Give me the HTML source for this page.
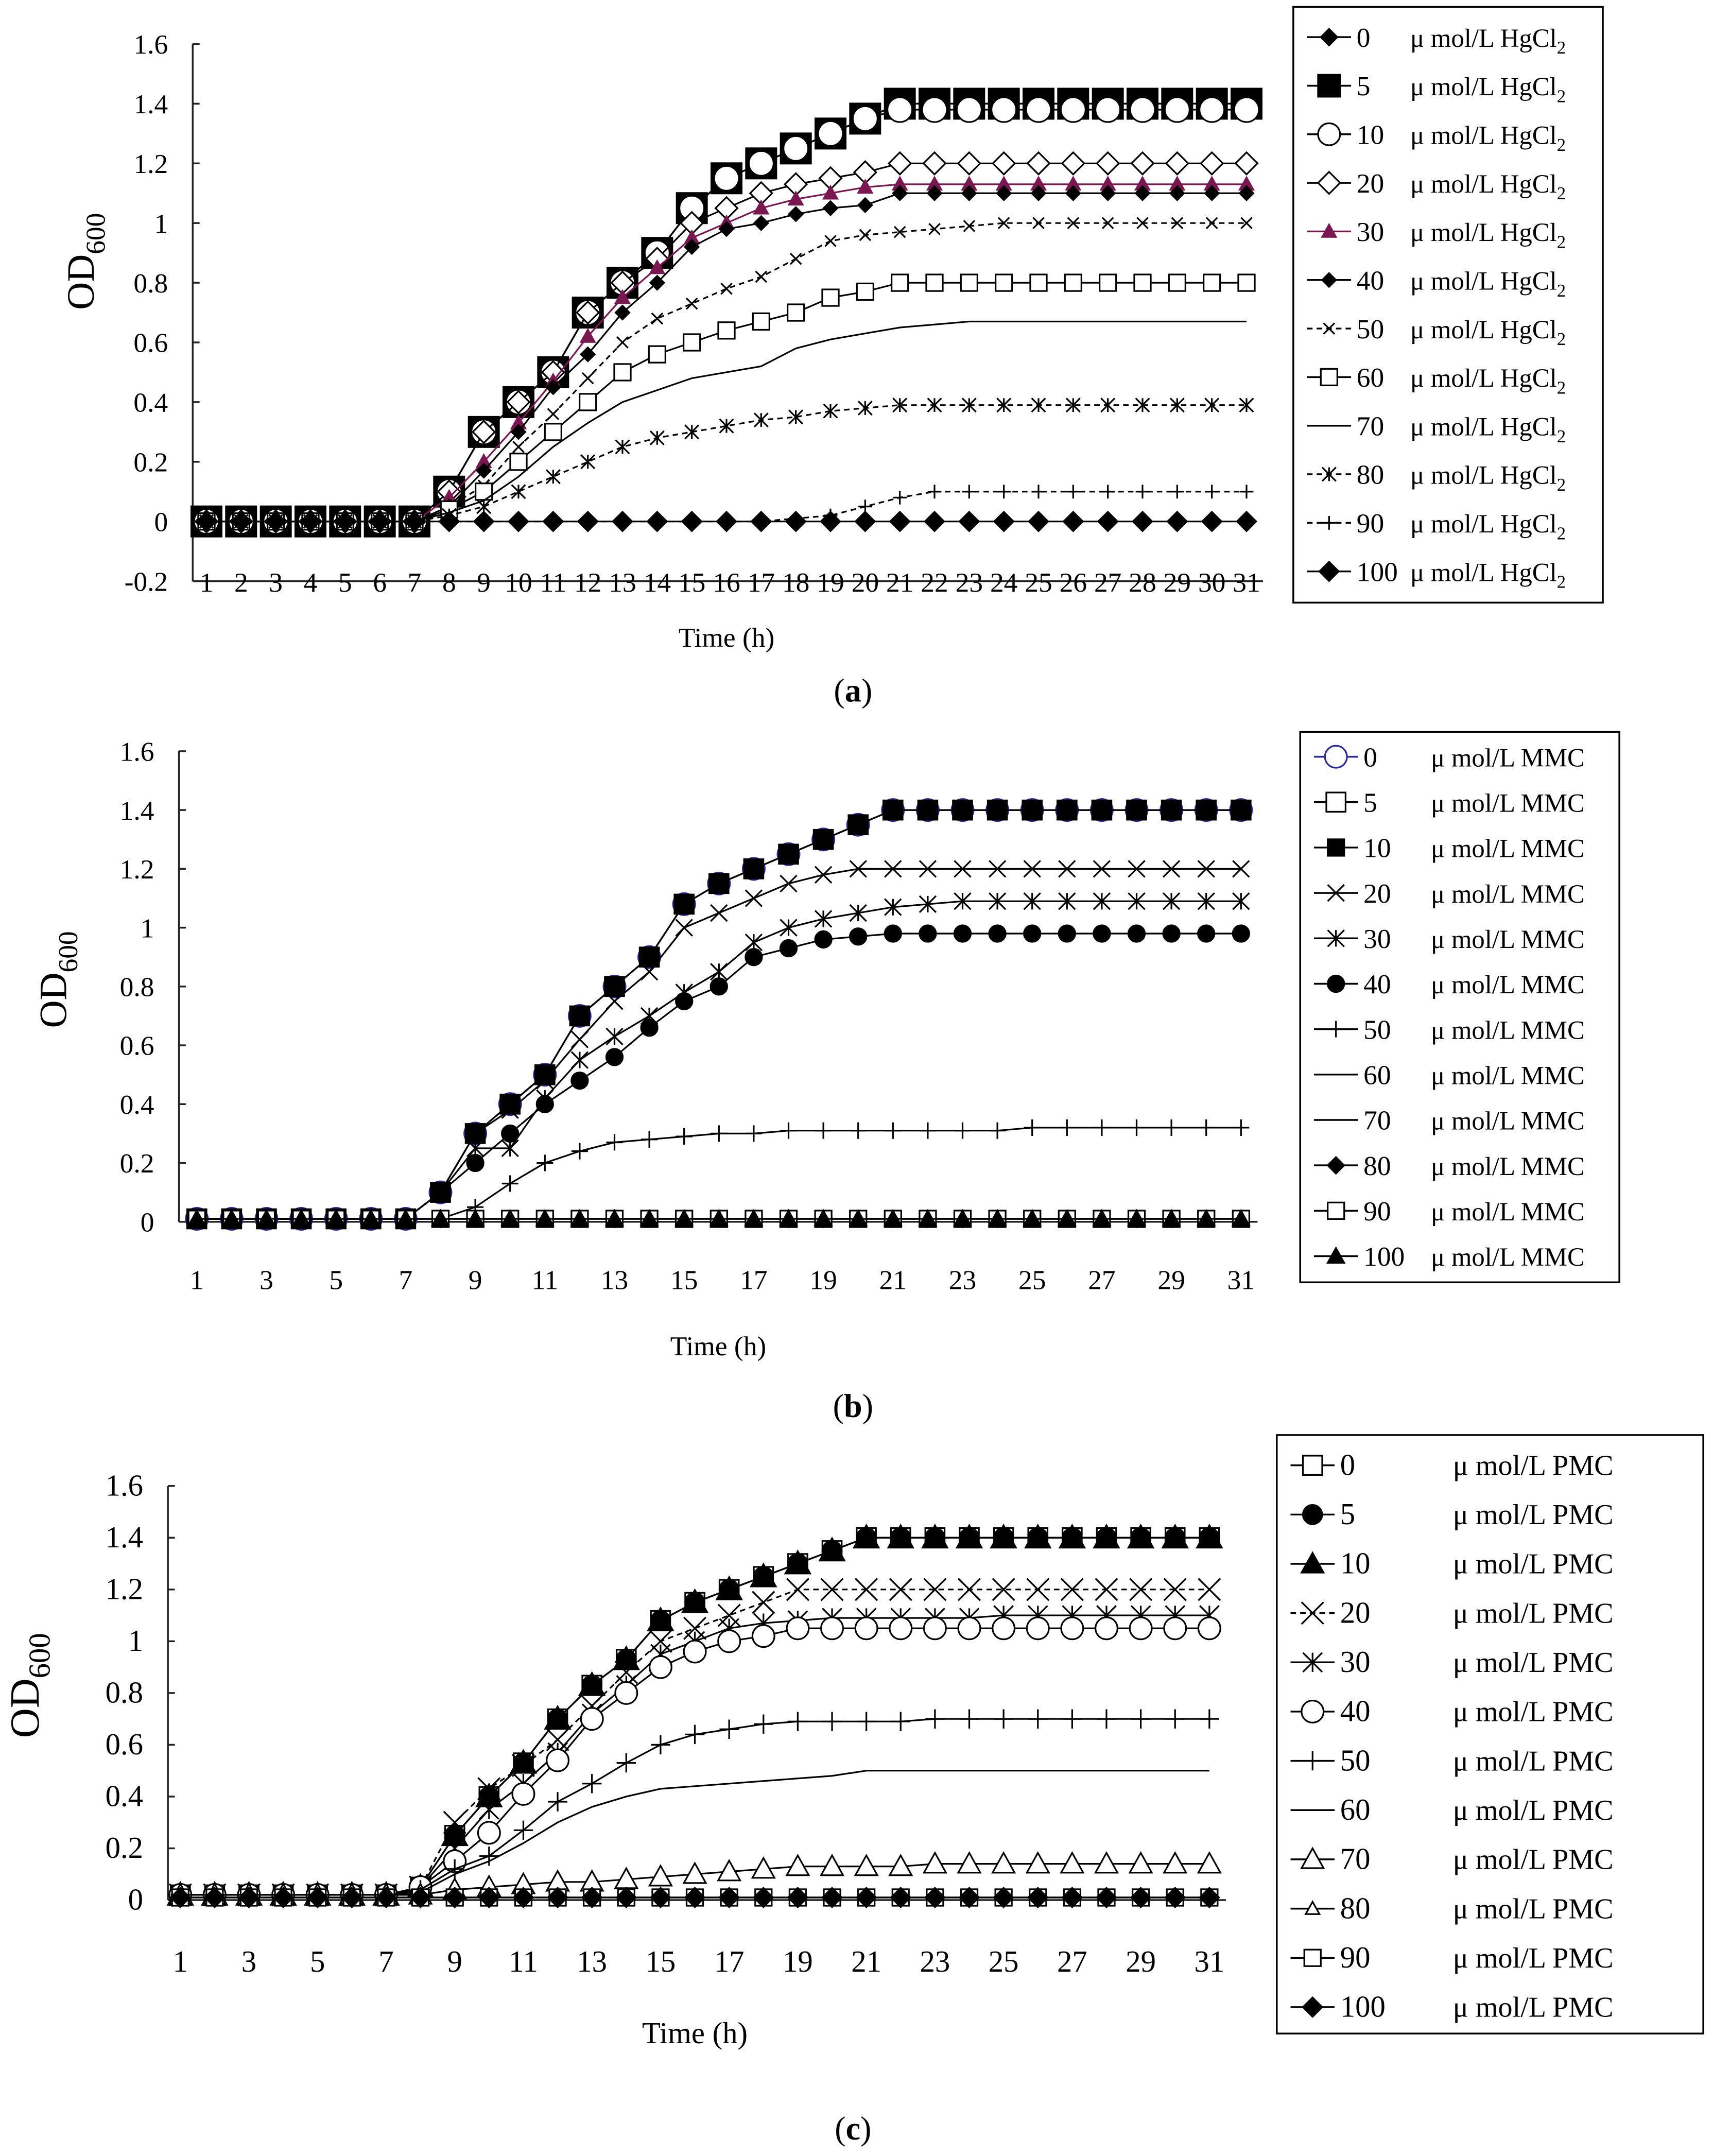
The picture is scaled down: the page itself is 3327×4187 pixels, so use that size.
<!DOCTYPE html>
<html><head><meta charset="utf-8"><style>
html,body{margin:0;padding:0;background:#fff}
svg{display:block}
text{font-family:"Liberation Serif",serif;fill:#000}
</style></head><body>
<svg id="fig" width="3327" height="4187" viewBox="0 0 1245 1567" xmlns="http://www.w3.org/2000/svg">
<rect width="1245" height="1567" fill="#fff"/>
<g id="root"></g>
</svg>
<script>
const hours=[1,2,3,4,5,6,7,8,9,10,11,12,13,14,15,16,17,18,19,20,21,22,23,24,25,26,27,28,29,30,31];
const yTicksA=[-0.2,0,0.2,0.4,0.6,0.8,1,1.2,1.4,1.6];
const yTicksB=[0,0.2,0.4,0.6,0.8,1,1.2,1.4,1.6];
const xTicksA=[1,2,3,4,5,6,7,8,9,10,11,12,13,14,15,16,17,18,19,20,21,22,23,24,25,26,27,28,29,30,31];
const xTicksOdd=[1,3,5,7,9,11,13,15,17,19,21,23,25,27,29,31];
const concA=["0","5","10","20","30","40","50","60","70","80","90","100"];
const concB=concA, concC=concA;
// panel a
const a0=[0,0,0,0,0,0,0,0.1,0.3,0.4,0.5,0.7,0.8,0.9,1.05,1.15,1.2,1.25,1.3,1.35,1.4,1.4,1.4,1.4,1.4,1.4,1.4,1.4,1.4,1.4,1.4];
const a5=[0,0,0,0,0,0,0,0.1,0.3,0.4,0.5,0.7,0.8,0.9,1.05,1.15,1.2,1.25,1.3,1.35,1.4,1.4,1.4,1.4,1.4,1.4,1.4,1.4,1.4,1.4,1.4];
const a10=[0,0,0,0,0,0,0,0.1,0.3,0.4,0.5,0.7,0.8,0.9,1.05,1.15,1.2,1.25,1.3,1.35,1.38,1.38,1.38,1.38,1.38,1.38,1.38,1.38,1.38,1.38,1.38];
const a20=[0,0,0,0,0,0,0,0.1,0.3,0.4,0.5,0.7,0.8,0.88,1.0,1.05,1.1,1.13,1.15,1.17,1.2,1.2,1.2,1.2,1.2,1.2,1.2,1.2,1.2,1.2,1.2];
const a30=[0,0,0,0,0,0,0,0.08,0.2,0.33,0.47,0.62,0.75,0.85,0.95,1.0,1.05,1.08,1.1,1.12,1.13,1.13,1.13,1.13,1.13,1.13,1.13,1.13,1.13,1.13,1.13];
const a40=[0,0,0,0,0,0,0,0.05,0.17,0.3,0.45,0.56,0.7,0.8,0.92,0.98,1.0,1.03,1.05,1.06,1.1,1.1,1.1,1.1,1.1,1.1,1.1,1.1,1.1,1.1,1.1];
const a50=[0,0,0,0,0,0,0,0.05,0.12,0.25,0.36,0.48,0.6,0.68,0.73,0.78,0.82,0.88,0.94,0.96,0.97,0.98,0.99,1.0,1.0,1.0,1.0,1.0,1.0,1.0,1.0];
const a60=[0,0,0,0,0,0,0,0.04,0.1,0.2,0.3,0.4,0.5,0.56,0.6,0.64,0.67,0.7,0.75,0.77,0.8,0.8,0.8,0.8,0.8,0.8,0.8,0.8,0.8,0.8,0.8];
const a70=[0,0,0,0,0,0,0,0.03,0.07,0.15,0.25,0.33,0.4,0.44,0.48,0.5,0.52,0.58,0.61,0.63,0.65,0.66,0.67,0.67,0.67,0.67,0.67,0.67,0.67,0.67,0.67];
const a80=[0,0,0,0,0,0,0,0.02,0.05,0.1,0.15,0.2,0.25,0.28,0.3,0.32,0.34,0.35,0.37,0.38,0.39,0.39,0.39,0.39,0.39,0.39,0.39,0.39,0.39,0.39,0.39];
const a90=[0,0,0,0,0,0,0,0,0,0,0,0,0,0,0,0,0,0.01,0.02,0.05,0.08,0.1,0.1,0.1,0.1,0.1,0.1,0.1,0.1,0.1,0.1];
const a100=[0,0,0,0,0,0,0,0,0,0,0,0,0,0,0,0,0,0,0,0,0,0,0,0,0,0,0,0,0,0,0];
// panel b
const b0=[0.01,0.01,0.01,0.01,0.01,0.01,0.01,0.1,0.3,0.4,0.5,0.7,0.8,0.9,1.08,1.15,1.2,1.25,1.3,1.35,1.4,1.4,1.4,1.4,1.4,1.4,1.4,1.4,1.4,1.4,1.4];
const b5=b0.slice(), b10=b0.slice();
const b20=[0.01,0.01,0.01,0.01,0.01,0.01,0.01,0.1,0.3,0.38,0.48,0.62,0.75,0.85,1.0,1.05,1.1,1.15,1.18,1.2,1.2,1.2,1.2,1.2,1.2,1.2,1.2,1.2,1.2,1.2,1.2];
const b30=[0.01,0.01,0.01,0.01,0.01,0.01,0.01,0.1,0.25,0.25,0.42,0.55,0.63,0.7,0.78,0.85,0.95,1.0,1.03,1.05,1.07,1.08,1.09,1.09,1.09,1.09,1.09,1.09,1.09,1.09,1.09];
const b40=[0.01,0.01,0.01,0.01,0.01,0.01,0.01,0.1,0.2,0.3,0.4,0.48,0.56,0.66,0.75,0.8,0.9,0.93,0.96,0.97,0.98,0.98,0.98,0.98,0.98,0.98,0.98,0.98,0.98,0.98,0.98];
const b50=[0.01,0.01,0.01,0.01,0.01,0.01,0.01,0.01,0.05,0.13,0.2,0.24,0.27,0.28,0.29,0.3,0.3,0.31,0.31,0.31,0.31,0.31,0.31,0.31,0.32,0.32,0.32,0.32,0.32,0.32,0.32];
const bFlat=[0.01,0.01,0.01,0.01,0.01,0.01,0.01,0.01,0.01,0.01,0.01,0.01,0.01,0.01,0.01,0.01,0.01,0.01,0.01,0.01,0.01,0.01,0.01,0.01,0.01,0.01,0.01,0.01,0.01,0.01,0.01];
// panel c
const c10=[0.02,0.02,0.02,0.02,0.02,0.02,0.02,0.05,0.25,0.4,0.53,0.7,0.83,0.93,1.08,1.15,1.2,1.25,1.3,1.35,1.4,1.4,1.4,1.4,1.4,1.4,1.4,1.4,1.4,1.4,1.4];
const c20=[0.02,0.02,0.02,0.02,0.02,0.02,0.02,0.05,0.3,0.43,0.52,0.62,0.75,0.88,1.0,1.05,1.1,1.15,1.2,1.2,1.2,1.2,1.2,1.2,1.2,1.2,1.2,1.2,1.2,1.2,1.2];
const c30=[0.02,0.02,0.02,0.02,0.02,0.02,0.02,0.05,0.2,0.35,0.45,0.57,0.72,0.83,0.95,1.0,1.05,1.07,1.08,1.09,1.09,1.09,1.09,1.09,1.1,1.1,1.1,1.1,1.1,1.1,1.1];
const c40=[0.02,0.02,0.02,0.02,0.02,0.02,0.02,0.05,0.15,0.26,0.41,0.54,0.7,0.8,0.9,0.96,1.0,1.02,1.05,1.05,1.05,1.05,1.05,1.05,1.05,1.05,1.05,1.05,1.05,1.05,1.05];
const c50=[0.02,0.02,0.02,0.02,0.02,0.02,0.02,0.04,0.12,0.17,0.27,0.38,0.45,0.53,0.6,0.64,0.66,0.68,0.69,0.69,0.69,0.69,0.7,0.7,0.7,0.7,0.7,0.7,0.7,0.7,0.7];
const c60=[0.02,0.02,0.02,0.02,0.02,0.02,0.02,0.03,0.1,0.15,0.22,0.3,0.36,0.4,0.43,0.44,0.45,0.46,0.47,0.48,0.5,0.5,0.5,0.5,0.5,0.5,0.5,0.5,0.5,0.5,0.5];
const c70=[0.02,0.02,0.02,0.02,0.02,0.02,0.02,0.02,0.04,0.05,0.06,0.07,0.07,0.08,0.09,0.1,0.11,0.12,0.13,0.13,0.13,0.13,0.14,0.14,0.14,0.14,0.14,0.14,0.14,0.14,0.14];
const cFlat=[0.01,0.01,0.01,0.01,0.01,0.01,0.01,0.01,0.01,0.01,0.01,0.01,0.01,0.01,0.01,0.01,0.01,0.01,0.01,0.01,0.01,0.01,0.01,0.01,0.01,0.01,0.01,0.01,0.01,0.01,0.01];

const NS="http://www.w3.org/2000/svg";
const root=document.getElementById('root');
function mk(tag,attrs,parent){const e=document.createElementNS(NS,tag);for(const k in attrs)e.setAttribute(k,attrs[k]);(parent||root).appendChild(e);return e;}

function marker(g,type,x,y,s,color){
  const c=color||'#000';let e;
  if(type==='dF'||type==='dO'){e=mk('polygon',{points:`${x},${y-s} ${x+s},${y} ${x},${y+s} ${x-s},${y}`,fill:type==='dF'?c:'#fff',stroke:c,'stroke-width':1.2},g);}
  else if(type==='sF'||type==='sO'){e=mk('rect',{x:x-s,y:y-s,width:2*s,height:2*s,fill:type==='sF'?c:'#fff',stroke:c,'stroke-width':1.2},g);}
  else if(type==='cF'||type==='cO'){e=mk('circle',{cx:x,cy:y,r:s,fill:type==='cF'?c:'#fff',stroke:c,'stroke-width':1.2},g);}
  else if(type==='tF'||type==='tO'){e=mk('polygon',{points:`${x},${y-s} ${x+s},${y+s*0.8} ${x-s},${y+s*0.8}`,fill:type==='tF'?c:'#fff',stroke:c,'stroke-width':1.2},g);}
  else if(type==='x'){e=mk('path',{d:`M${x-s},${y-s}L${x+s},${y+s}M${x-s},${y+s}L${x+s},${y-s}`,stroke:c,'stroke-width':1.2,fill:'none'},g);}
  else if(type==='ast'){e=mk('path',{d:`M${x-s},${y-s}L${x+s},${y+s}M${x-s},${y+s}L${x+s},${y-s}M${x},${y-s}L${x},${y+s}`,stroke:c,'stroke-width':1.2,fill:'none'},g);}
  else if(type==='+'){e=mk('path',{d:`M${x-s},${y}L${x+s},${y}M${x},${y-s}L${x},${y+s}`,stroke:c,'stroke-width':1.2,fill:'none'},g);}
  else return;
  
  
}

function panel(P){
  const g=mk('g',{});
  
  
  const X=h=>P.x1+(h-1)*(P.x31-P.x1)/30;
  const Y=v=>P.y0-v*(P.y0-P.y16)/1.6;
  const ymin=P.yTicks[0];
  // y axis
  const ya=mk('line',{x1:P.ax,y1:Y(1.6),x2:P.ax,y2:Y(ymin),stroke:'#222','stroke-width':1.3},g);
  
  const xa=mk('line',{x1:P.ax,y1:Y(ymin),x2:P.x31+12,y2:Y(ymin),stroke:'#222','stroke-width':1.3},g);
  
  P.yTicks.forEach(t=>{
    mk('line',{x1:P.ax,y1:Y(t),x2:P.ax+5,y2:Y(t),stroke:'#222','stroke-width':1.3},g);
    const tx=mk('text',{x:P.ax-18,y:Y(t)+7,'text-anchor':'end','font-size':P.fs},g);tx.textContent=String(t);
    
  });
  P.xTicks.forEach(t=>{
    const tx=mk('text',{x:X(t),y:P.xly,'text-anchor':'middle','font-size':P.fs},g);tx.textContent=String(t);
    
  });
  const xt=mk('text',{x:P.xtx,y:P.xty,'text-anchor':'middle','font-size':P.fs},g);xt.textContent='Time (h)';
  
  const yt=mk('text',{x:0,y:0,'text-anchor':'middle','font-size':P.fs+8,transform:`translate(${P.ytx},${P.yty}) rotate(-90)`},g);
  yt.innerHTML='OD<tspan font-size="'+(P.fs)+'" dy="8">600</tspan>';
  
  // series
  P.series.forEach((s,i)=>{
    const sg=mk('g',{},g);
    
    const d=s.v.map((v,k)=>(k?'L':'M')+X(hours[k])+','+Y(v)).join('');
    mk('path',{d:d,fill:'none',stroke:s.col||'#000','stroke-width':1.2,'stroke-dasharray':s.dash||'none'},sg);
    s.v.forEach((v,k)=>marker(sg,s.m,X(hours[k]),Y(v),s.s,s.col));
  });
  // legend
  const lg=mk('g',{},g);
  
  mk('rect',{x:P.lx,y:P.ly,width:P.lw,height:P.lh,fill:'#fff',stroke:'#000','stroke-width':1.3},lg);
  P.series.forEach((s,i)=>{
    const y=P.le0+i*P.ld;
    const eg=mk('g',{},lg);
    
    mk('line',{x1:P.lx+10,y1:y,x2:P.lx+42,y2:y,stroke:s.col||'#000','stroke-width':1.3,'stroke-dasharray':s.dash||'none'},eg);
    marker(eg,s.m,P.lx+26,y,Math.min(s.s,8),s.col);
    const t1=mk('text',{x:P.lx+46,y:y+7,'font-size':P.fs},eg);t1.textContent=P.conc[i];
    const t2=mk('text',{x:P.lx+P.ux,y:y+7,'font-size':P.fs-1},eg);
    t2.innerHTML='\u03bc mol/L '+P.unit;
  });
  const cap=mk('text',{x:620,y:P.capy,'text-anchor':'middle','font-size':24},g);
  cap.innerHTML='(<tspan font-weight="bold">'+P.cap+'</tspan>)';
  
}

panel({id:'panel-a',ax:140,x1:150,x31:906,y0:379,y16:32,yTicks:yTicksA,xTicks:xTicksA,xly:430,fs:20,xtx:528,xty:470,ytx:68,yty:190,
 conc:concA,unit:'HgCl<tspan font-size="13" dy="5">2</tspan>',lx:940,ly:5,lw:225,lh:433,le0:27,ld:35.3,ux:85,capy:510,cap:'a',
 series:[{v:a0,m:'dF',s:6},{v:a5,m:'sF',s:11},{v:a10,m:'cO',s:9},{v:a20,m:'dO',s:8},{v:a30,m:'tF',s:5,col:'#7a1650'},{v:a40,m:'dF',s:5},
 {v:a50,m:'x',s:4,dash:'4,3'},{v:a60,m:'sO',s:6},{v:a70,m:'none',s:5},{v:a80,m:'ast',s:5,dash:'4,3'},{v:a90,m:'+',s:5,dash:'4,3'},{v:a100,m:'dF',s:7}]});

panel({id:'panel-b',ax:130,x1:143,x31:902,y0:888,y16:546,yTicks:yTicksB,xTicks:xTicksOdd,xly:937,fs:20,xtx:522,xty:985,ytx:48,yty:712,
 conc:concB,unit:'MMC',lx:945,ly:532,lw:232,lh:400,le0:550,ld:33,ux:95,capy:1030,cap:'b',
 series:[{v:b0,m:'cO',s:8,col:'#2a2a9a'},{v:b5,m:'sO',s:7},{v:b10,m:'sF',s:6},{v:b20,m:'x',s:6},{v:b30,m:'ast',s:6},{v:b40,m:'cF',s:6},
 {v:b50,m:'+',s:6},{v:bFlat,m:'none',s:5},{v:bFlat,m:'none',s:5},{v:bFlat,m:'dF',s:6},{v:bFlat,m:'sO',s:6},{v:bFlat,m:'tF',s:6}]});

panel({id:'panel-c',ax:122,x1:131,x31:879,y0:1381,y16:1080,yTicks:yTicksB,xTicks:xTicksOdd,xly:1433,fs:22,xtx:505,xty:1485,ytx:28,yty:1225,
 conc:concC,unit:'PMC',lx:928,ly:1043,lw:310,lh:435,le0:1065,ld:35.8,ux:128,capy:1555,cap:'c',
 series:[{v:c10,m:'sO',s:7},{v:c10,m:'cF',s:7},{v:c10,m:'tF',s:9},{v:c20,m:'x',s:8,dash:'4,3'},{v:c30,m:'ast',s:7},{v:c40,m:'cO',s:8},
 {v:c50,m:'+',s:7},{v:c60,m:'none',s:5},{v:c70,m:'tO',s:8},{v:cFlat,m:'tO',s:5},{v:cFlat,m:'sO',s:6},{v:cFlat,m:'dF',s:7}]});
</script>
</body></html>
